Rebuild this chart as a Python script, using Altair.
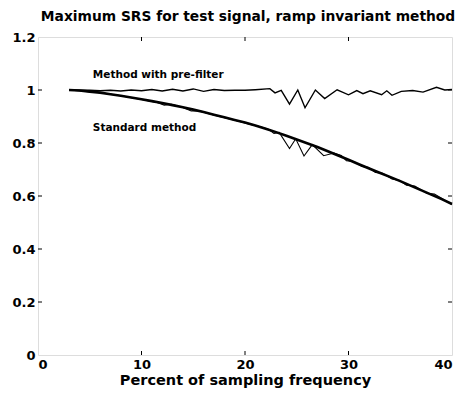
import altair as alt
import pandas as pd

# ---- data ----
x_ticks = [0, 10, 20, 30, 40]
y_ticks = [0, 0.2, 0.4, 0.6, 0.8, 1, 1.2]

# smooth (thick) standard-method curve
smooth_x = list(range(3, 41))
smooth_y = [1.000, 0.998, 0.994, 0.990, 0.984, 0.978, 0.972, 0.965, 0.958, 0.951,
            0.943, 0.935, 0.926, 0.917, 0.907, 0.897, 0.887, 0.877, 0.866, 0.854,
            0.841, 0.827, 0.813, 0.799, 0.785, 0.769, 0.753, 0.737, 0.720, 0.704,
            0.688, 0.672, 0.656, 0.639, 0.622, 0.605, 0.588, 0.570]

# thin standard-method curve (with dips)
std_x = [3.0, 6.0, 8.0, 10.0, 11.5, 12.2, 12.9, 14.0, 14.8, 15.5, 16.6, 17.4, 18.3,
         19.3, 20.5, 21.5, 22.3, 22.8, 23.3, 24.3, 24.9, 25.7, 26.5, 27.6, 28.6,
         29.3, 29.8, 30.5, 31.3, 31.9, 32.6, 33.3, 34.2, 34.9, 35.6, 36.4, 37.6,
         38.3, 39.2, 40.0]
std_y = [1.000, 0.990, 0.978, 0.964, 0.953, 0.943, 0.946, 0.934, 0.921, 0.922, 0.910,
         0.901, 0.893, 0.883, 0.870, 0.861, 0.851, 0.836, 0.840, 0.779, 0.816, 0.751,
         0.794, 0.752, 0.762, 0.753, 0.733, 0.730, 0.711, 0.708, 0.689, 0.686, 0.664,
         0.659, 0.641, 0.638, 0.610, 0.607, 0.587, 0.568]

# method with pre-filter
pre_x = [3.0, 5.0, 6.0, 7.0, 8.0, 9.0, 10.0, 11.0, 12.0, 13.0, 14.0, 15.0, 16.0,
         17.0, 18.0, 19.0, 20.0, 21.0, 22.4, 22.9, 23.5, 24.3, 25.1, 25.8, 26.8,
         27.7, 28.9, 30.0, 30.8, 31.4, 32.1, 33.2, 33.7, 34.2, 35.1, 36.2, 37.2,
         38.5, 39.3, 40.0]
pre_y = [1.000, 0.999, 0.997, 0.999, 0.996, 1.000, 0.997, 1.002, 0.996, 1.003, 0.996,
         1.004, 0.995, 1.002, 0.998, 0.999, 0.999, 1.001, 1.005, 0.989, 0.999, 0.947,
         1.000, 0.933, 1.000, 0.968, 1.001, 0.982, 0.998, 0.986, 0.997, 0.982, 0.997,
         0.980, 0.995, 0.998, 0.992, 1.010, 1.000, 1.002]

label_text = ["Method with pre-filter", "Standard method"]
label_x = [5.3, 5.3]
label_y = [1.055, 0.857]

title_text = "Maximum SRS for test signal, ramp invariant method"
x_title = "Percent of sampling frequency"

W, H = 414, 318
FONT = "DejaVu Sans"

X = alt.X("x:Q", scale=alt.Scale(domain=[0, 40], nice=False, zero=False),
          axis=alt.Axis(values=x_ticks, title=x_title, grid=False, domain=False,
                        ticks=False, labelPadding=3, labelFont=FONT, labelFontSize=13,
                        labelFontWeight="bold", titleFont=FONT, titleFontSize=14.5,
                        titleFontWeight="bold", titlePadding=2, labelColor="black",
                        titleColor="black"))
Y = alt.Y("y:Q", scale=alt.Scale(domain=[0, 1.2], nice=False, zero=False),
          axis=alt.Axis(values=y_ticks, format="~g", title=None, grid=False,
                        domain=False, ticks=False, labelPadding=3, labelFont=FONT,
                        labelFontSize=13, labelFontWeight="bold", labelColor="black"))

smooth = alt.Chart(pd.DataFrame({"x": smooth_x, "y": smooth_y})).mark_line(
    color="black", strokeWidth=2.6).encode(x=X, y=Y)
std = alt.Chart(pd.DataFrame({"x": std_x, "y": std_y})).mark_line(
    color="black", strokeWidth=1.1).encode(x=X, y=Y)
pre = alt.Chart(pd.DataFrame({"x": pre_x, "y": pre_y})).mark_line(
    color="black", strokeWidth=1.4).encode(x=X, y=Y)
labels = alt.Chart(pd.DataFrame({"x": label_x, "y": label_y, "t": label_text})).mark_text(
    align="left", baseline="middle", font=FONT, fontSize=10.5, fontWeight="bold",
    color="black").encode(x=X, y=Y, text="t:N")

xt = pd.DataFrame({"x": x_ticks[1:-1]})
yt = pd.DataFrame({"y": y_ticks[1:-1]})
tick_b = alt.Chart(xt).mark_rule(color="black", strokeWidth=1).encode(
    x=X, y=alt.value(H), y2=alt.value(H - 4))
tick_t = alt.Chart(xt).mark_rule(color="black", strokeWidth=1).encode(
    x=X, y=alt.value(0), y2=alt.value(4))
tick_l = alt.Chart(yt).mark_rule(color="black", strokeWidth=1).encode(
    y=Y, x=alt.value(0), x2=alt.value(4))
tick_r = alt.Chart(yt).mark_rule(color="black", strokeWidth=1).encode(
    y=Y, x=alt.value(W - 4), x2=alt.value(W))

chart = alt.layer(smooth, std, pre, labels, tick_b, tick_t, tick_l, tick_r).properties(
    width=W, height=H,
    title=alt.TitleParams(text=title_text, font=FONT, fontSize=13.8, fontWeight="bold",
                          color="black", anchor="middle", offset=7, dx=3),
    autosize=alt.AutoSizeParams(type="none"),
    padding={"left": 30, "top": 29, "right": 9, "bottom": 37},
).configure_view(stroke="black", strokeWidth=1.2).configure(background="white")

chart.save("out.html", embed_options={"renderer": "svg", "actions": False})
